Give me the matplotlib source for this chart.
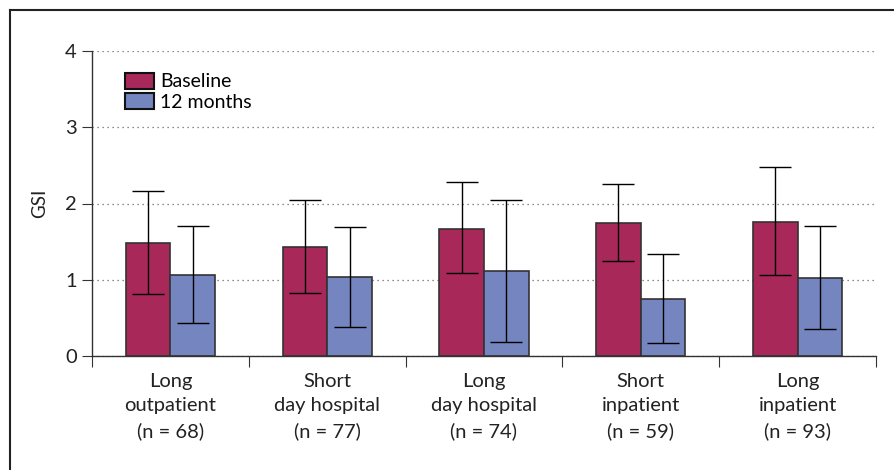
import numpy as np
import matplotlib
matplotlib.use("Agg")
import matplotlib.pyplot as plt
from matplotlib.lines import Line2D

plt.rcParams['font.family'] = ['Lato', 'DejaVu Sans']

## data
groups = ["Long\noutpatient\n(n = 68)", "Short\nday hospital\n(n = 77)",
          "Long\nday hospital\n(n = 74)", "Short\ninpatient\n(n = 59)",
          "Long\ninpatient\n(n = 93)"]
baseline = [1.48, 1.43, 1.67, 1.74, 1.76]
baseline_hi = [2.17, 2.05, 2.28, 2.25, 2.48]
baseline_lo = [0.81, 0.82, 1.09, 1.24, 1.06]
months12 = [1.06, 1.03, 1.11, 0.75, 1.02]
months12_hi = [1.71, 1.69, 2.04, 1.34, 1.70]
months12_lo = [0.43, 0.38, 0.19, 0.17, 0.36]

c_base = '#A8285A'
c_12 = '#7485C0'

fig = plt.figure(figsize=(8.94, 4.70), dpi=100)
ax = fig.add_axes([92/894, 1-356/470, 784/894, 305/470])

x = np.arange(len(groups)) + 0.5
w = 0.285

err_b = [np.array(baseline) - np.array(baseline_lo), np.array(baseline_hi) - np.array(baseline)]
err_m = [np.array(months12) - np.array(months12_lo), np.array(months12_hi) - np.array(months12)]

ax.bar(x - w/2, baseline, w, color=c_base, edgecolor='#333333', linewidth=1.2,
       label='Baseline', zorder=2)
ax.bar(x + w/2, months12, w, color=c_12, edgecolor='#333333', linewidth=1.2,
       label='12 months', zorder=2)
ax.errorbar(x - w/2, baseline, yerr=err_b, fmt='none', ecolor='black',
            elinewidth=1, capsize=11.5, capthick=1, zorder=3)
ax.errorbar(x + w/2, months12, yerr=err_m, fmt='none', ecolor='black',
            elinewidth=1, capsize=11.5, capthick=1, zorder=3)

ax.set_xlim(0, 5)
ax.set_ylim(0, 4)
ax.set_yticks([0, 1, 2, 3, 4])
ax.yaxis.grid(True, linestyle=(0, (1, 3)), color='#666666', linewidth=0.9, zorder=0)
ax.set_axisbelow(True)

ax.set_xticks(np.arange(6))
ax.set_xticklabels([])
ax.set_xticks(x, minor=True)
ax.set_xticklabels(groups, minor=True, fontsize=14.5, color='#222222', linespacing=1.55)
ax.tick_params(axis='x', which='major', direction='out', length=8, color='#333333')
ax.tick_params(axis='x', which='minor', length=0, pad=12)
ax.tick_params(axis='y', direction='out', length=7, labelsize=14.5, color='#333333',
               labelcolor='#222222', pad=4)

for s in ['top', 'right']:
    ax.spines[s].set_visible(False)
for s in ['left', 'bottom']:
    ax.spines[s].set_color('#333333')
    ax.spines[s].set_linewidth(1.0)

ax.set_ylabel('GSI', fontsize=13.5, color='#222222', labelpad=12)

leg = ax.legend(loc='upper left', bbox_to_anchor=(0.032, 0.955), frameon=False,
                fontsize=14, handlelength=1.5, handleheight=0.9,
                handletextpad=0.3, labelspacing=0.15, borderaxespad=0)
for h in leg.legend_handles:
    h.set_edgecolor('#111111')
    h.set_linewidth(1.5)

## frame lines on top and left of the figure
fig.add_artist(Line2D([10/894, 10/894], [0, 1-10/470], transform=fig.transFigure,
                      color='#222222', linewidth=1.5))
fig.add_artist(Line2D([10/894, 1], [1-10/470, 1-10/470], transform=fig.transFigure,
                      color='#222222', linewidth=1.5))

fig.savefig('out.png', dpi=100)
